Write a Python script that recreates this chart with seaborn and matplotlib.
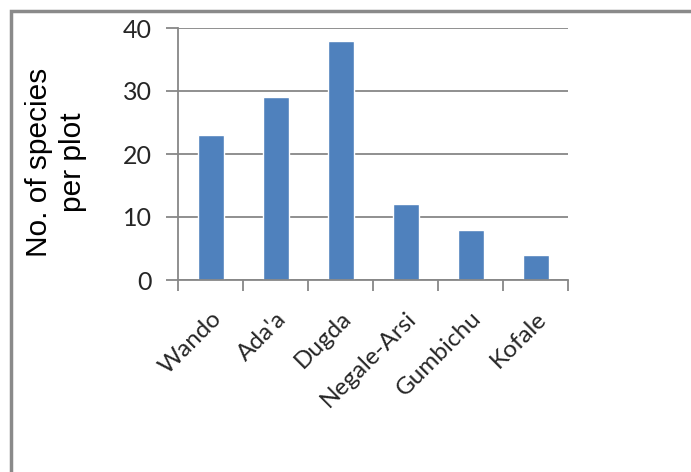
import matplotlib
matplotlib.use("Agg")
import matplotlib.pyplot as plt
from matplotlib.patches import Rectangle
import seaborn as sns
import pandas as pd

sites = ["Wando", "Ada'a", "Dugda", "Negale-Arsi", "Gumbichu", "Kofale"]
species_per_plot = [23, 29, 38, 12, 8, 4]
y_ticks = [0, 10, 20, 30, 40]

sns.set_theme(style="white")
plt.rcParams["font.family"] = ["Lato", "DejaVu Sans"]

df = pd.DataFrame({"site": sites, "species": species_per_plot})

fig = plt.figure(figsize=(6.91, 4.72), dpi=100)
ax = fig.add_axes([178 / 691, 192 / 472, 390 / 691, 252 / 472])

grey = "#878787"
sns.barplot(data=df, x="site", y="species", color="#4F81BD", width=0.4,
            saturation=1, ax=ax, zorder=3)

ax.set_ylim(0, 40)
ax.set_xlim(-0.5, len(sites) - 0.5)
ax.set_yticks(y_ticks)
ax.yaxis.grid(True, color=grey, linewidth=1.3, zorder=0)
ax.set_axisbelow(True)

for side in ("top", "right"):
    ax.spines[side].set_visible(False)
for side in ("left", "bottom"):
    ax.spines[side].set_color(grey)
    ax.spines[side].set_linewidth(1.3)
    ax.spines[side].set_zorder(4)

# category boundary ticks on the x axis, labels centered between them
ax.set_xticks([i - 0.5 for i in range(len(sites) + 1)], minor=True)
ax.tick_params(axis="x", which="minor", length=8, width=1.3, color=grey,
               direction="out", bottom=True)
ax.tick_params(axis="x", which="major", length=0, pad=20, labelsize=17.5)
ax.tick_params(axis="y", which="major", length=9, width=1.3, color=grey,
               direction="out", left=True, pad=10, labelsize=18)
ax.set_xticks(range(len(sites)))
ax.set_xticklabels(sites, rotation=45, ha="right", va="top",
                   rotation_mode="anchor")
ax.set_xlabel("")
ax.set_ylabel("")

fig.text(56 / 691, 1 - 162 / 472, "No. of species\nper plot", rotation=90,
         ha="center", va="center", fontsize=21.5, family="Liberation Sans",
         linespacing=1.3, color="black")

# outer chart-area frame (continues past the right and bottom edges)
fig.patches.append(Rectangle((11 / 691, -0.1), 1.2, (1 - 11 / 472) + 0.1,
                             transform=fig.transFigure, fill=False,
                             edgecolor="#8a8a8a", linewidth=2.5))

fig.savefig("out.png", dpi=100, facecolor="white")
